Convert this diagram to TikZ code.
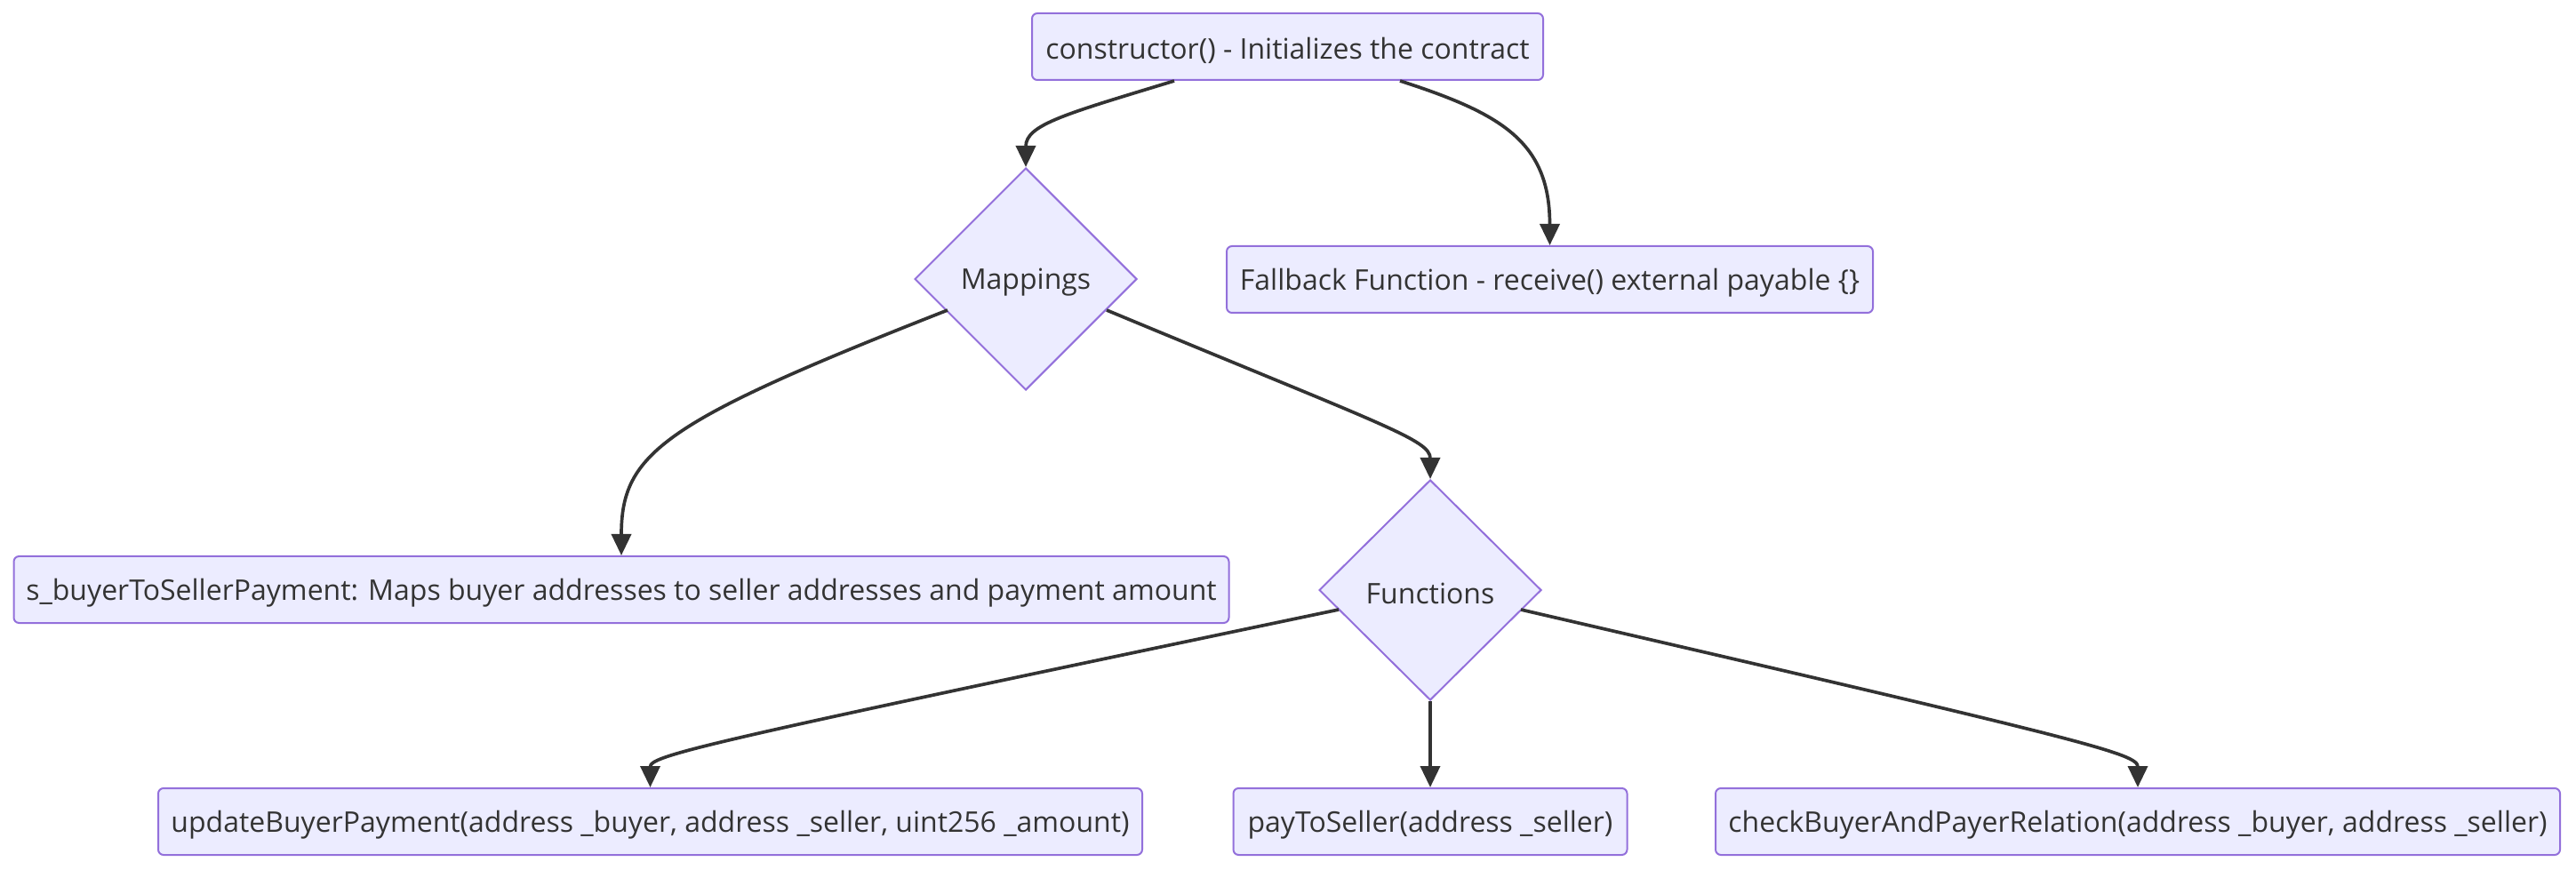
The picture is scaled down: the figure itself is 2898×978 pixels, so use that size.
\documentclass[tikz,border=0pt]{standalone}
\usepackage{fontspec}
\setmainfont{Open Sans}
\usetikzlibrary{shapes.geometric,arrows.meta}
\definecolor{boxfill}{HTML}{ECECFF}
\definecolor{boxline}{HTML}{9370DB}
\definecolor{ink}{HTML}{333333}
\newcommand{\lowtext}[1]{\raisebox{-4pt}[\height][\depth]{#1}}
\begin{document}
\begin{tikzpicture}[x=1pt,y=1pt,
  every node/.style={font=\fontsize{32}{38}\selectfont, text=ink},
  box/.style={draw=boxline, fill=boxfill, line width=2pt, rounded corners=6pt, inner sep=0pt, minimum height=75pt},
  dia/.style={diamond, aspect=1, draw=boxline, fill=boxfill, line width=2pt, inner sep=0pt, minimum width=250pt, minimum height=250pt},
  conn/.style={draw=ink, line width=3.7pt, -{Triangle[length=24pt,width=22pt]}}]
\useasboundingbox (0,0) rectangle (2898,978);
\node[box, minimum width=575pt] (cons) at (1448.5,925.5) {\lowtext{constructor() - Initializes the contract}};
\node[dia] (map) at (1154,664) {\lowtext{Mappings}};
\node[box, minimum width=727pt] (fb) at (1743.5,663.5) {\lowtext{Fallback Function - receive() external payable \{\}}};
\node[box, minimum width=1367pt] (sb) at (699,314.5) {\lowtext{s\_buyerToSellerPayment: Maps buyer addresses to seller addresses and payment amount}};
\node[dia, minimum height=248pt] (fn) at (1609,314) {\lowtext{Functions}};
\node[box, minimum width=1107pt] (up) at (731.5,53.5) {\lowtext{updateBuyerPayment(address \_buyer, address \_seller, uint256 \_amount)}};
\node[box, minimum width=443pt] (pay) at (1609,53.5) {\lowtext{payToSeller(address \_seller)}};
\node[box, minimum width=950pt] (chk) at (2405,53.5) {\lowtext{checkBuyerAndPayerRelation(address \_buyer, address \_seller)}};

\draw[conn] ([xshift=-127.5pt]cons.south) .. controls (1200,850) and (1154,838) .. (map.north);
\draw[conn] ([xshift=126.5pt]cons.south) .. controls (1690,850) and (1743.5,818) .. (fb.north);
\draw[conn] ([shift={(-88pt,-35pt)}]map.center) .. controls (745,503) and (699,468) .. (sb.north);
\draw[conn] ([shift={(91pt,-35pt)}]map.center) .. controls (1560,498) and (1609,483) .. (fn.north);
\draw[conn] ([shift={(-103pt,-22pt)}]fn.center) .. controls (790,142) and (731.5,128) .. (up.north);
\draw[conn] (fn.south) -- (pay.north);
\draw[conn] ([shift={(102pt,-22pt)}]fn.center) .. controls (2350,144) and (2405,130) .. (chk.north);
\end{tikzpicture}
\end{document}
